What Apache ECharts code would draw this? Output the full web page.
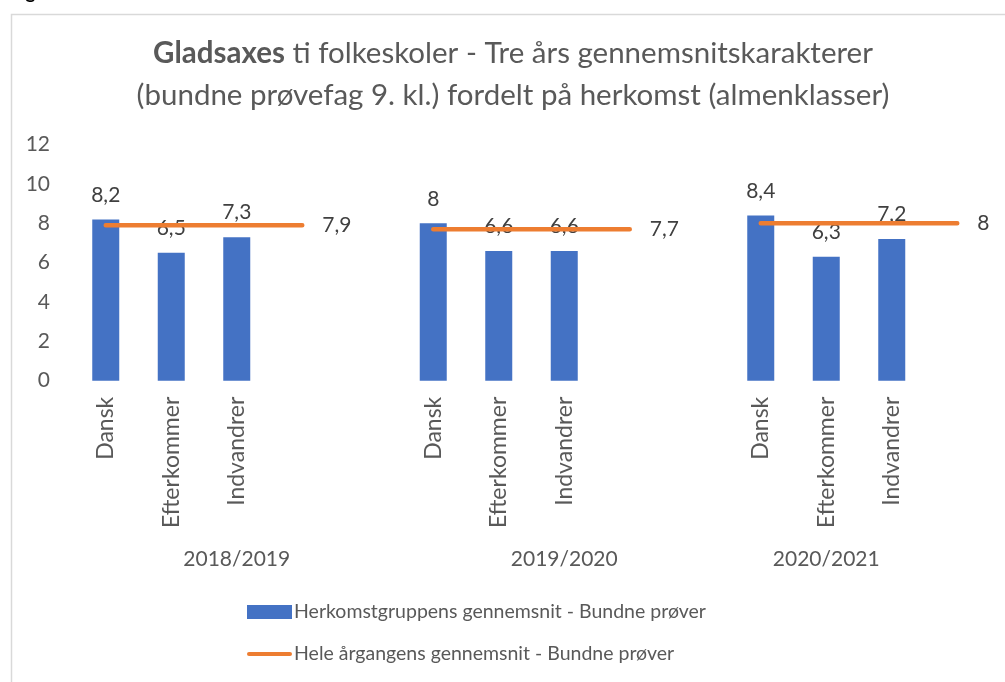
<!DOCTYPE html>
<html>
<head>
<meta charset="utf-8">
<script src="https://cdn.jsdelivr.net/npm/echarts@6/dist/echarts.min.js"></script>
<style>
html,body{margin:0;padding:0;background:#fff;}
#c{width:1005px;height:682px;}
</style>
</head>
<body>
<div id="c"></div>
<script>
// ---- data ----
const years = ['2018/2019', '2019/2020', '2020/2021'];
const subCategories = ['Dansk', 'Efterkommer', 'Indvandrer'];
const groupValues2018 = [8.2, 6.5, 7.3];
const groupValues2019 = [8, 6.6, 6.6];
const groupValues2020 = [8.4, 6.3, 7.2];
const overallValues = [7.9, 7.7, 8];
const seriesBarName = 'Herkomstgruppens gennemsnit - Bundne prøver';
const seriesLineName = 'Hele årgangens gennemsnit - Bundne prøver';
const yTicks = [0, 2, 4, 6, 8, 10, 12];

// ---- build category layout (3 subs per year, blank spacer slots between) ----
const groups = [groupValues2018, groupValues2019, groupValues2020];
const categories = [], yearLabels = [], barData = [], lineData = [];
groups.forEach((vals, g) => {
  const start = categories.length;
  const spacers = g < groups.length - 1 ? 2 : 1;
  const slots = subCategories.length + spacers;
  const labelSlot = Math.floor((slots - 1) / 2);
  for (let k = 0; k < slots; k++) {
    if (k < subCategories.length) {
      categories.push(subCategories[k]);
      barData.push(vals[k]);
    } else {
      categories.push('');
      barData.push('-');
    }
    yearLabels.push(k === labelSlot ? years[g] : '');
  }
  // overall line spans the 3 bars plus one spacer slot
  for (let k = 0; k < 4; k++) {
    const idx = start + k;
    lineData[idx] = k === 3
      ? { value: overallValues[g], label: { show: true } }
      : overallValues[g];
  }
  if (spacers === 2) lineData[start + 4] = '-';
});
for (let i = 0; i < categories.length; i++) if (lineData[i] === undefined) lineData[i] = '-';

const fmt = v => String(v).replace('.', ',');
const FONT = 'Lato';
const GREY = '#595959';

const chart = echarts.init(document.getElementById('c'), null, { renderer: 'canvas' });
chart.setOption({
  backgroundColor: '#ffffff',
  animation: false,
  textStyle: { fontFamily: FONT },
  title: {
    text: '{b|Gladsaxes} ti folkeskoler - Tre års gennemsnitskarakterer\n(bundne prøvefag 9. kl.) fordelt på herkomst (almenklasser)',
    left: 513,
    top: 32,
    padding: 0,
    textAlign: 'center',
    textStyle: {
      fontFamily: FONT, fontSize: 29.5, fontWeight: 'normal', color: GREY, lineHeight: 42,
      rich: { b: { fontFamily: FONT, fontSize: 29.5, fontWeight: 'bold', color: GREY, lineHeight: 42 } }
    }
  },
  graphic: [
    { type: 'rect', left: 9, top: 12, shape: { width: 1200, height: 900 }, style: { fill: 'none', stroke: '#d9d9d9', lineWidth: 1.5 }, silent: true },
    { type: 'text', left: 10, top: -17, style: { text: 'Figur 13', font: 'bold 19px Lato', fill: '#000' } }
  ],
  grid: { left: 73, top: 144.7, width: 917, height: 236, containLabel: false },
  legend: {
    orient: 'vertical',
    left: 242,
    top: 597,
    itemWidth: 45,
    itemHeight: 14,
    itemGap: 22,
    textStyle: { fontFamily: FONT, fontSize: 19.5, color: GREY, lineHeight: 20, padding: [0, 0, 0, -3] },
    data: [
      { name: seriesBarName, icon: 'rect' },
      { name: seriesLineName, icon: 'path://M2,0 H43 A2,2 0 0 1 43,4 H2 A2,2 0 0 1 2,0 Z' }
    ]
  },
  xAxis: [
    {
      type: 'category', data: categories, gridIndex: 0,
      axisLine: { show: false }, axisTick: { show: false }, splitLine: { show: false },
      axisLabel: { interval: 0, rotate: 90, margin: 16, fontFamily: FONT, fontSize: 23, color: GREY }
    },
    {
      type: 'category', data: yearLabels, gridIndex: 0, position: 'bottom', offset: 168,
      axisLine: { show: false }, axisTick: { show: false }, splitLine: { show: false },
      axisLabel: { interval: 0, margin: 0, fontFamily: FONT, fontSize: 21, color: GREY }
    }
  ],
  yAxis: {
    type: 'value', min: yTicks[0], max: yTicks[yTicks.length - 1], interval: yTicks[1] - yTicks[0],
    axisLine: { show: false }, axisTick: { show: false }, splitLine: { show: false },
    axisLabel: { margin: 23, fontFamily: FONT, fontSize: 21, color: GREY }
  },
  series: [
    {
      name: seriesBarName, type: 'bar', xAxisIndex: 0, data: barData, barWidth: 27,
      itemStyle: { color: '#4472C4' },
      label: { show: true, position: 'top', distance: 14, fontFamily: FONT, fontSize: 21, color: '#404040', formatter: p => fmt(p.value) }
    },
    {
      name: seriesLineName, type: 'line', xAxisIndex: 0, data: lineData, connectNulls: false,
      symbol: 'circle', symbolSize: 0, showSymbol: true, z: 3,
      lineStyle: { color: '#ED7D31', width: 4.5, cap: 'round' },
      itemStyle: { color: '#ED7D31' },
      label: { show: false, position: 'right', distance: 20, fontFamily: FONT, fontSize: 21, color: '#404040', formatter: p => fmt(p.value) }
    }
  ]
});
</script>
</body>
</html>
